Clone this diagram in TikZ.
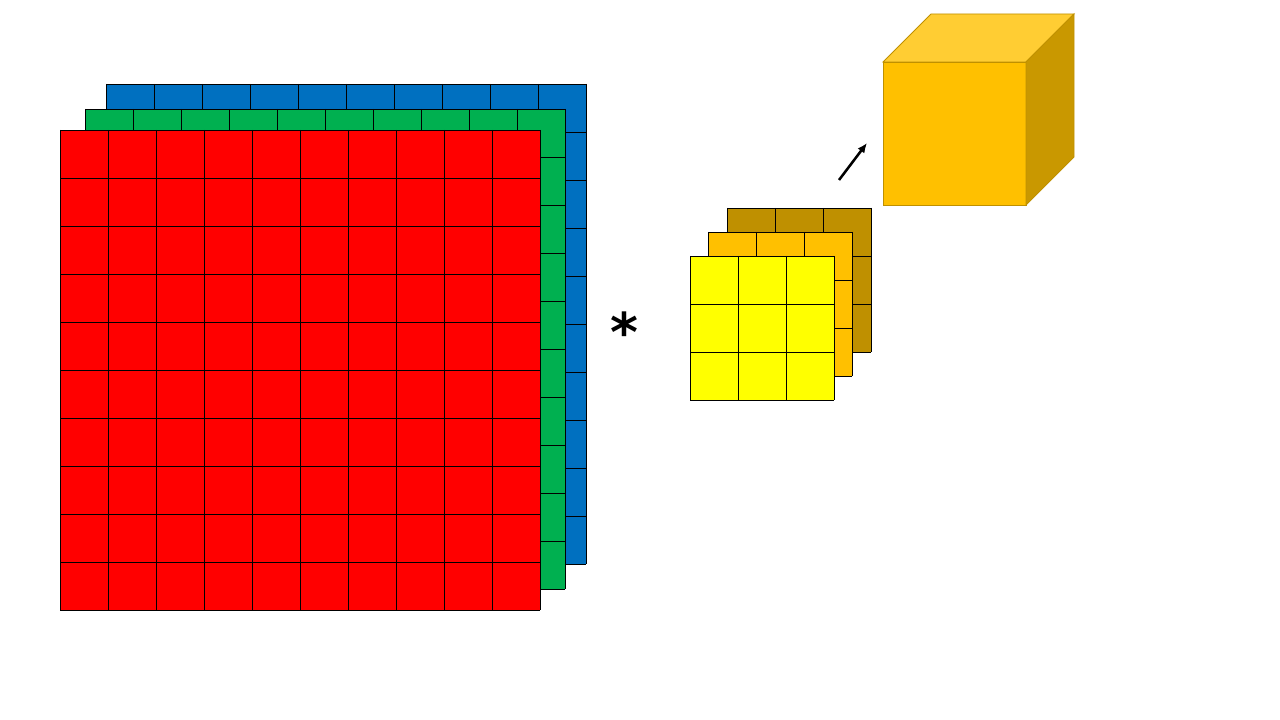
\documentclass[tikz,border=0pt]{standalone}
\usepackage{fontspec}
\newfontfamily\starfont{DejaVu Sans}
\usetikzlibrary{arrows.meta}
\definecolor{mapred}{HTML}{FF0000}
\definecolor{mapgreen}{HTML}{00B050}
\definecolor{mapblue}{HTML}{0070C0}
\definecolor{kernyellow}{HTML}{FFFF00}
\definecolor{kernorange}{HTML}{FFC000}
\definecolor{kerngold}{HTML}{BF9000}
\definecolor{cubetop}{HTML}{FFCD33}
\definecolor{cubeside}{HTML}{C99800}
\definecolor{cubeedge}{HTML}{BF9000}

\begin{document}
\begin{tikzpicture}[x=0.025cm,y=-0.025cm,line width=0.6pt]
        \useasboundingbox (0,0) rectangle (1280,720);
        % input volume, back to front
        \foreach \x/\y/\c in {106/84/mapblue,85/109/mapgreen,60/130/mapred}{
            \fill[\c] (\x,\y) rectangle +(480,480);
            \foreach \i in {0,...,10}{
                \draw (\x+48*\i,\y) -- +(0,480);
                \draw (\x,\y+48*\i) -- +(480,0);
            }
        }
        % kernel, back to front
        \foreach \x/\y/\c in {727/208/kerngold,708/232/kernorange,690/256/kernyellow}{
            \fill[\c] (\x,\y) rectangle +(144,144);
            \foreach \i in {0,...,3}{
                \draw (\x+48*\i,\y) -- +(0,144);
                \draw (\x,\y+48*\i) -- +(144,0);
            }
        }
        \node [font=\starfont\bfseries\fontsize{38}{38}\selectfont, inner sep=0pt, anchor=base] (conv) at (624,352) {*};
        % output cube
        \draw[cubeedge, fill=kernorange] (883,62) rectangle (1026,205);
        \draw[cubeedge, fill=cubetop] (883,62) -- (931,14) -- (1074,14) -- (1026,62) -- cycle;
        \draw[cubeedge, fill=cubeside] (1026,62) -- (1074,14) -- (1074,157) -- (1026,205) -- cycle;
        \coordinate (A0) at (839,180);
        \coordinate (A1) at (867,143);
        \draw[line width=1.8pt, -{Latex[length=7pt,width=6pt]}] (A0) -- (A1);
    \end{tikzpicture}
\end{document}
